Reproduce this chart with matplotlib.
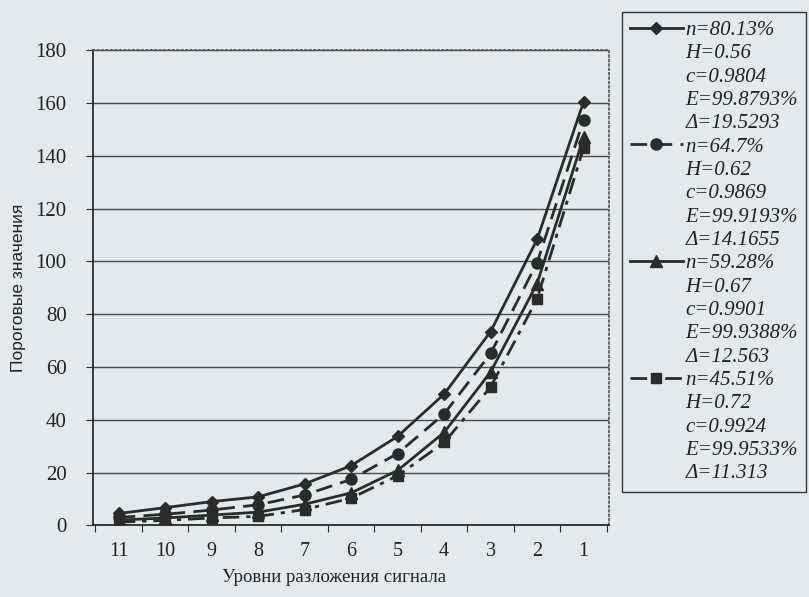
import matplotlib.pyplot as plt
from matplotlib.lines import Line2D

levels = ['11', '10', '9', '8', '7', '6', '5', '4', '3', '2', '1']

s1 = [4.5, 6.7, 9.0, 10.8, 15.7, 22.6, 33.7, 49.7, 73.4, 108.3, 160.5]
s2 = [3.0, 4.2, 5.8, 7.8, 11.5, 17.4, 27.2, 42.2, 65.1, 99.5, 153.6]
s3 = [2.0, 2.8, 3.9, 5.0, 8.0, 12.3, 20.8, 35.2, 58.1, 91.6, 147.0]
s4 = [1.2, 1.9, 2.8, 3.4, 6.0, 10.3, 18.8, 31.4, 52.4, 85.8, 143.0]

labels1 = ['n=80.13%', 'H=0.56', 'c=0.9804', 'E=99.8793%', 'Δ=19.5293']
labels2 = ['n=64.7%', 'H=0.62', 'c=0.9869', 'E=99.9193%', 'Δ=14.1655']
labels3 = ['n=59.28%', 'H=0.67', 'c=0.9901', 'E=99.9388%', 'Δ=12.563']
labels4 = ['n=45.51%', 'H=0.72', 'c=0.9924', 'E=99.9533%', 'Δ=11.313']

bg = '#e4eaeb'
ink = '#2b2b2b'
plt.rcParams['font.family'] = ['Liberation Serif', 'DejaVu Serif']

fig = plt.figure(figsize=(8.09, 5.97), dpi=100, facecolor=bg)
ax = fig.add_axes([0.115, 0.12, 0.638, 0.796], facecolor=bg)

x = list(range(len(levels)))
l1, = ax.plot(x, s1, color=ink, lw=2.0, ls='-', marker='D', ms=6.5)
l2, = ax.plot(x, s2, color=ink, lw=2.0, ls=(0, (6, 3)), marker='o', ms=8)
l3, = ax.plot(x, s3, color=ink, lw=2.0, ls='-', marker='^', ms=8)
l4, = ax.plot(x, s4, color=ink, lw=2.0, ls=(0, (6, 2.5, 1.5, 2.5)), marker='s', ms=6.5)

ax.set_xlim(-0.55, 10.55)
ax.set_ylim(0, 180)
ax.set_yticks(range(0, 181, 20))
ax.yaxis.grid(True, color='#4a4a4a', lw=1.0)
ax.set_axisbelow(True)

# ticks between categories, labels at category centres
ax.set_xticks([i + 0.5 for i in range(-1, 11)])
ax.set_xticklabels([])
ax.set_xticks(x, minor=True)
ax.set_xticklabels(levels, minor=True)
ax.tick_params(axis='x', which='major', length=5, direction='out', color=ink)
ax.tick_params(axis='x', which='minor', length=0, pad=12, labelsize=14.5, labelcolor='#222')
ax.tick_params(axis='y', length=5, direction='out', color=ink, labelsize=15, labelcolor='#222', pad=14)

for side in ['top', 'right']:
    ax.spines[side].set_linestyle(':')
    ax.spines[side].set_color('#555')
    ax.spines[side].set_linewidth(1.2)
ax.spines['left'].set_color(ink)
ax.spines['bottom'].set_color(ink)
ax.spines['left'].set_linewidth(1.3)
ax.spines['bottom'].set_linewidth(1.3)

ax.set_xlabel('Уровни разложения сигнала', fontsize=13.5, color='#222')
ax.xaxis.set_label_coords(0.467, -0.092)
ax.set_ylabel('Пороговые значения', fontsize=12.5, color='#222',
              family=['Liberation Sans Narrow', 'Liberation Sans', 'DejaVu Sans'])
ax.yaxis.set_label_coords(-0.13, 0.5)

blank = Line2D([], [], ls='none')
handles = []
names = []
for line, labs in [(l1, labels1), (l2, labels2), (l3, labels3), (l4, labels4)]:
    handles.append(line)
    names.append(labs[0])
    for t in labs[1:]:
        handles.append(blank)
        names.append(t)

leg = fig.legend(handles, names, loc='upper left', bbox_to_anchor=(0.769, 0.98),
                 frameon=True, fancybox=False, edgecolor='#333', facecolor=bg,
                 framealpha=1, handlelength=2.5, handletextpad=0.15,
                 labelspacing=0.18, borderpad=0.4, borderaxespad=0,
                 prop={'family': 'Liberation Serif', 'style': 'italic', 'size': 15})
leg.get_frame().set_linewidth(1.0)
for t in leg.get_texts():
    t.set_color('#222')

fig.savefig('out.png', dpi=100, facecolor=bg)
